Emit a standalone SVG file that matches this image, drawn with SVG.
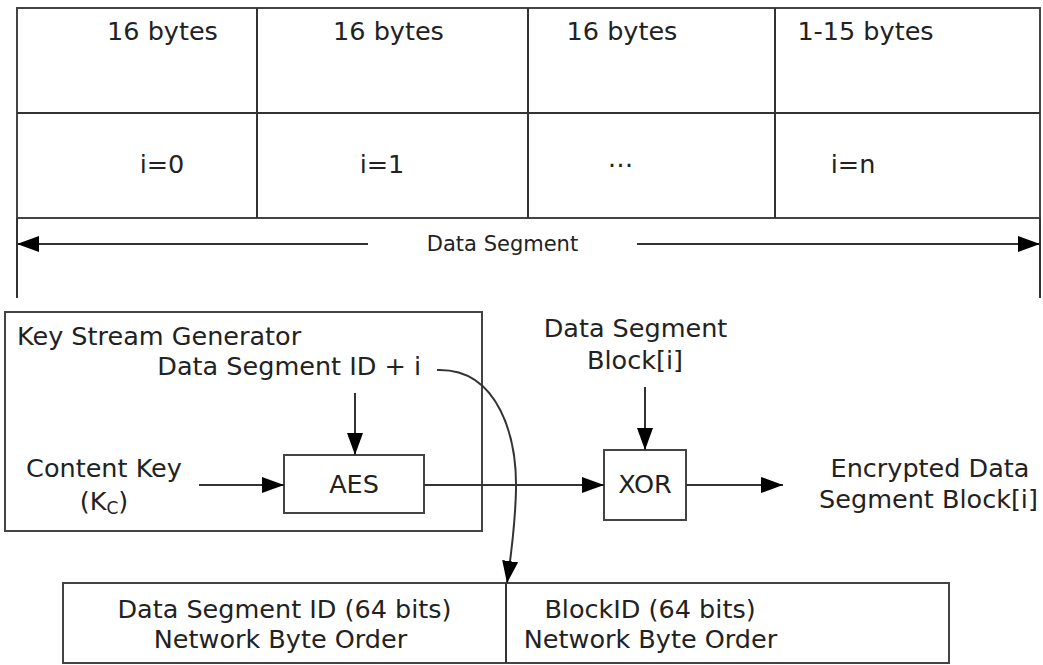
<svg xmlns="http://www.w3.org/2000/svg" width="1043" height="665" viewBox="0 0 1043 665">
  <style>
    .ln { stroke: #333; stroke-width: 2; fill: none; }
    .bx { stroke: #444; stroke-width: 2; fill: #fff; }
    .t { font-family: "DejaVu Sans", Verdana, sans-serif; font-size: 25.5px; fill: #222; }
    .tc { text-anchor: middle; }
    .sm { font-size: 21px; }
  </style>
  <defs>
    <marker id="ah" markerUnits="userSpaceOnUse" markerWidth="22" markerHeight="16" refX="22" refY="8" orient="auto">
      <path d="M0,0 L22,8 L0,16 z" fill="#000"/>
    </marker>
  </defs>
  <rect width="1043" height="665" fill="#fff"/>

  <g id="segment-table">
    <rect class="bx" x="17" y="8" width="1023" height="210"/>
    <line class="ln" x1="17" y1="113" x2="1040" y2="113"/>
    <line class="ln" x1="257" y1="8" x2="257" y2="218"/>
    <line class="ln" x1="528" y1="8" x2="528" y2="218"/>
    <line class="ln" x1="775" y1="8" x2="775" y2="218"/>
    <line class="ln" x1="17" y1="218" x2="17" y2="298"/>
    <line class="ln" x1="1040" y1="218" x2="1040" y2="298"/>
    <text class="t tc" x="162.5" y="40">16 bytes</text>
    <text class="t tc" x="388.5" y="40">16 bytes</text>
    <text class="t tc" x="622" y="40">16 bytes</text>
    <text class="t tc" x="865.5" y="40">1-15 bytes</text>
    <text class="t tc" x="162" y="173">i=0</text>
    <text class="t tc" x="382" y="173">i=1</text>
    <text class="t tc" x="620.5" y="173">⋯</text>
    <text class="t tc" x="853" y="173">i=n</text>
    <text class="t tc sm" x="502.5" y="251">Data Segment</text>
  </g>

  <g id="key-stream-generator">
    <rect class="bx" x="5" y="312" width="477" height="219"/>
    <text class="t" x="17" y="345">Key Stream Generator</text>
    <text class="t" x="421" y="375" text-anchor="end">Data Segment ID + i</text>
  </g>

  <g id="content-key">
    <text class="t tc" x="104" y="477">Content Key</text>
    <text class="t tc" x="104" y="510">(K<tspan font-size="17" dy="4">C</tspan><tspan dy="-4">)</tspan></text>
  </g>

  <g id="aes">
    <rect class="bx" x="284" y="455" width="140" height="58"/>
    <text class="t tc" x="354" y="493">AES</text>
  </g>

  <g id="data-segment-block">
    <text class="t tc" x="635.5" y="337">Data Segment</text>
    <text class="t tc" x="635" y="369">Block[i]</text>
  </g>

  <g id="xor">
    <rect class="bx" x="604" y="450" width="82" height="70"/>
    <text class="t tc" x="645" y="493">XOR</text>
  </g>

  <g id="encrypted-output">
    <text class="t tc" x="930" y="477">Encrypted Data</text>
    <text class="t tc" x="928.5" y="508">Segment Block[i]</text>
  </g>

  <g id="counter-block">
    <rect class="bx" x="63" y="583" width="886" height="80"/>
    <line class="ln" x1="506" y1="583" x2="506" y2="663"/>
    <text class="t tc" x="284.5" y="618">Data Segment ID (64 bits)</text>
    <text class="t tc" x="280.5" y="648">Network Byte Order</text>
    <text class="t tc" x="650" y="618">BlockID (64 bits)</text>
    <text class="t tc" x="650.5" y="648">Network Byte Order</text>
  </g>

  <g id="connectors">
    <line class="ln" x1="368" y1="244" x2="17" y2="244" marker-end="url(#ah)"/>
    <line class="ln" x1="637" y1="244" x2="1040" y2="244" marker-end="url(#ah)"/>
    <line class="ln" x1="355" y1="393" x2="355" y2="455" marker-end="url(#ah)"/>
    <line class="ln" x1="199" y1="485" x2="284" y2="485" marker-end="url(#ah)"/>
    <line class="ln" x1="424" y1="485" x2="604" y2="485" marker-end="url(#ah)"/>
    <line class="ln" x1="645" y1="387" x2="645" y2="450" marker-end="url(#ah)"/>
    <line class="ln" x1="686" y1="485" x2="783" y2="485" marker-end="url(#ah)"/>
    <path class="ln" d="M437,370 C500,368 517,440 516,490 C515,530 511,555 507,583" marker-end="url(#ah)"/>
  </g>
</svg>
